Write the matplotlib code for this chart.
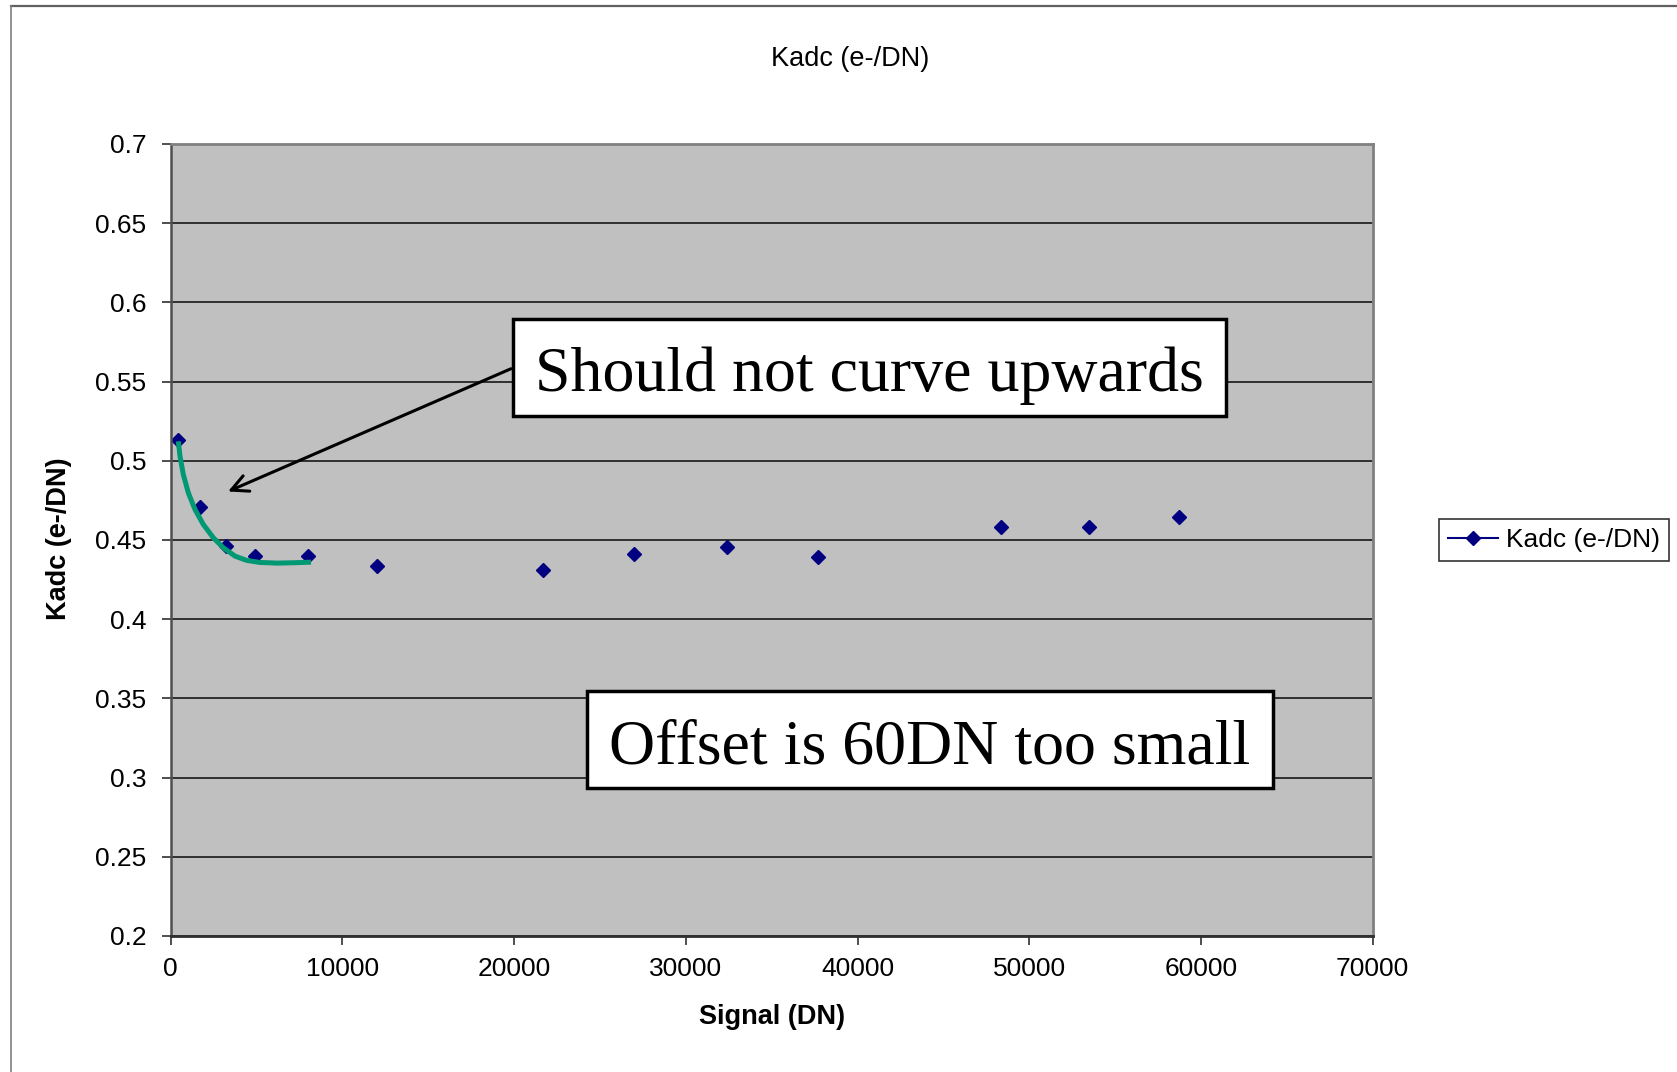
import matplotlib.pyplot as plt
from matplotlib.lines import Line2D
from matplotlib.patches import Rectangle
from matplotlib.transforms import IdentityTransform

# --- data ---
signal = [400, 1700, 3200, 4900, 8000, 12000, 21700, 27000, 32400, 37700, 48350, 53500, 58750]
kadc = [0.513, 0.471, 0.4465, 0.440, 0.440, 0.4335, 0.431, 0.441, 0.4457, 0.4394, 0.458, 0.4585, 0.4642]

# hand-drawn green curve (annotation)
curve_x = [443, 541, 734, 1025, 1415, 1899, 2481, 3063, 3745, 4426, 5201, 6174, 7140, 8171]
curve_y = [0.5123, 0.5028, 0.4913, 0.4798, 0.4692, 0.4598, 0.4514, 0.4451, 0.4398, 0.4371,
           0.4358, 0.4354, 0.4356, 0.4360]

x_ticks = [0, 10000, 20000, 30000, 40000, 50000, 60000, 70000]
y_ticks = [0.2, 0.25, 0.3, 0.35, 0.4, 0.45, 0.5, 0.55, 0.6, 0.65, 0.7]
y_labels = ['0.2', '0.25', '0.3', '0.35', '0.4', '0.45', '0.5', '0.55', '0.6', '0.65', '0.7']

SANS = 'Liberation Sans'
SERIF = 'Liberation Serif'
NAVY = '#000080'

fig = plt.figure(figsize=(16.77, 10.72), dpi=100)
ax = fig.add_axes([0.1018, 0.1269, 0.7167, 0.7388])
ax.set_facecolor('#C0C0C0')

ax.plot(signal, kadc, linestyle='none', marker='D', markersize=7.5, color=NAVY)
ax.plot(curve_x, curve_y, color='#009973', lw=3.6, solid_capstyle='butt')

ax.set_xlim(0, 70000)
ax.set_ylim(0.2, 0.7)
ax.set_xticks(x_ticks)
ax.set_xticklabels([str(v) for v in x_ticks], fontfamily=SANS, fontsize=19)
ax.set_yticks(y_ticks)
ax.set_yticklabels(y_labels, fontfamily=SANS, fontsize=19)
ax.tick_params(axis='y', direction='out', length=6.5, width=1.3, color='#404040', pad=11)
ax.tick_params(axis='x', direction='out', length=6.5, width=1.3, color='#404040', pad=9)

ax.grid(axis='y', color='#303030', lw=1.4)
ax.set_axisbelow(True)

for side in ['top', 'right']:
    ax.spines[side].set_color('#808080')
    ax.spines[side].set_linewidth(2)
ax.spines['left'].set_color('#505050')
ax.spines['left'].set_linewidth(1.8)
ax.spines['bottom'].set_color('#303030')
ax.spines['bottom'].set_linewidth(2)

ax.set_xlabel('Signal (DN)', fontfamily=SANS, fontsize=19.5, fontweight='bold', va='center')
ax.xaxis.set_label_coords(0.5003, -0.1023)
ax.set_ylabel('Kadc (e-/DN)', fontfamily=SANS, fontsize=19.5, fontweight='bold', va='center')
ax.yaxis.set_label_coords(-0.0929, 0.501)

fig.text(850 / 1677, 1 - 59 / 1072, 'Kadc (e-/DN)', fontfamily=SANS, fontsize=19.5,
         ha='center', va='center')

# legend (line + marker)
handle = Line2D([], [], color=NAVY, lw=1.5, marker='D', markersize=7)
leg = ax.legend([handle], ['Kadc (e-/DN)'], loc='center',
                bbox_to_anchor=(1554 / 1677, 1 - 540 / 1072), bbox_transform=fig.transFigure,
                prop={'family': SANS, 'size': 19}, frameon=True, fancybox=False,
                handlelength=1.9, handletextpad=0.3, borderpad=0.35, borderaxespad=0)
leg.get_frame().set_edgecolor('black')
leg.get_frame().set_linewidth(1.2)

# annotation text boxes (box sized from the text extent, more room above than below)
notes = [(40696, 0.5535, 'Should not curve upwards'),
         (44220, 0.3184, 'Offset is 60DN too small')]
note_texts = []
for nx, ny, txt in notes:
    note_texts.append(ax.text(nx, ny, txt, fontfamily=SERIF, fontsize=46, ha='center',
                              va='center', color='black', zorder=6))

ax.annotate('', xy=(3337, 0.4806), xytext=(19818, 0.5581),
            arrowprops=dict(arrowstyle='->', color='black', lw=2.2, mutation_scale=30,
                            shrinkA=0, shrinkB=0), zorder=4)

fig.canvas.draw()
renderer = fig.canvas.get_renderer()
for t in note_texts:
    bb = t.get_window_extent(renderer)
    rect = Rectangle((bb.x0 - 22, bb.y0 - 11), bb.width + 44, bb.height + 39,
                     transform=IdentityTransform(), facecolor='white', edgecolor='black',
                     linewidth=2.5, zorder=5)
    ax.add_patch(rect)

# chart-area frame (top and left edges visible)
fig.add_artist(Line2D([11 / 1677, 1], [1 - 6 / 1072, 1 - 6 / 1072], color='#606060', lw=1.6))
fig.add_artist(Line2D([11 / 1677, 11 / 1677], [0, 1 - 6 / 1072], color='#808080', lw=1.2))

fig.savefig('out.png', dpi=100)
